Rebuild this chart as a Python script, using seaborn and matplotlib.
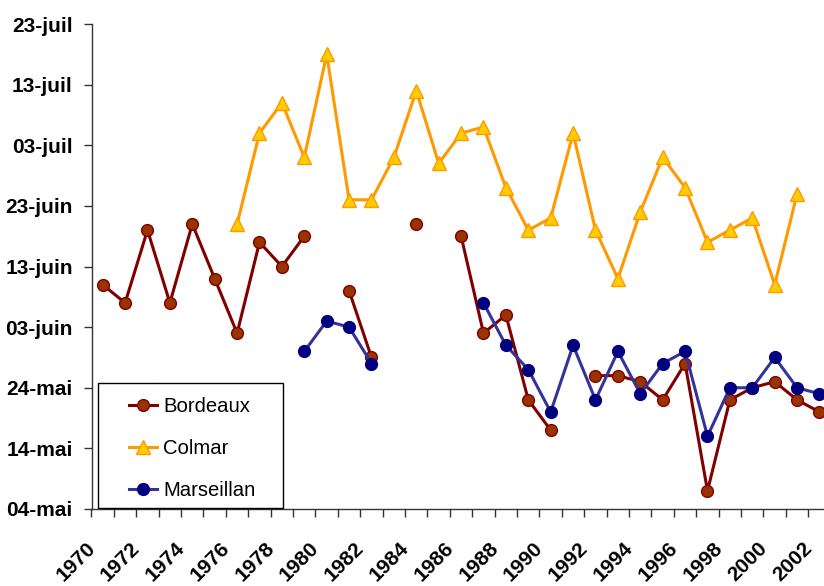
import numpy as np
import pandas as pd
import matplotlib
matplotlib.use("Agg")
import matplotlib.pyplot as plt
import seaborn as sns
from matplotlib.lines import Line2D
from matplotlib.patches import Rectangle
from matplotlib.transforms import ScaledTranslation, blended_transform_factory

plt.rcParams['font.family'] = ['Liberation Sans', 'DejaVu Sans']

nan = np.nan
years = list(range(1970, 2003))
# values: days after 04-mai
bordeaux = [37, 34, 46, 34, 47, 38, 29, 44, 40, 45, nan, 36, 25, nan, 47, nan,
            45, 29, 32, 18, 13, nan, 22, 22, 21, 18, 24, 3, 18, 20, 21, 18, 16]
colmar = [nan, nan, nan, nan, nan, nan, 47, 62, 67, 58, 75, 51, 51, 58, 69, 57,
          62, 63, 53, 46, 48, 62, 46, 38, 49, 58, 53, 44, 46, 48, 37, 52, nan]
marseillan = [nan, nan, nan, nan, nan, nan, nan, nan, nan, 26, 31, 30, 24, nan, nan, nan,
              nan, 34, 27, 23, 16, 27, 18, 26, 19, 24, 26, 12, 20, 20, 25, 20, 19]
ytick_vals = [0, 10, 20, 30, 40, 50, 60, 70, 80]
ytick_labels = ['04-mai', '14-mai', '24-mai', '03-juin', '13-juin', '23-juin',
                '03-juil', '13-juil', '23-juil']
series_names = ['Bordeaux', 'Colmar', 'Marseillan']

styles = {
    'Bordeaux': dict(color='#800000', marker='o', markersize=8.5,
                     markerfacecolor='#993300', markeredgecolor='#800000',
                     markeredgewidth=1.0, linewidth=2.2),
    'Colmar': dict(color='#FF9900', marker='^', markersize=9.5,
                   markerfacecolor='#FFCC00', markeredgecolor='#FF9900',
                   markeredgewidth=1.0, linewidth=2.2),
    'Marseillan': dict(color='#333399', marker='o', markersize=8.5,
                       markerfacecolor='#000080', markeredgecolor='#000080',
                       markeredgewidth=1.0, linewidth=2.2),
}

W, H = 824, 586
fig = plt.figure(figsize=(W / 100, H / 100), dpi=100)
ax_l, ax_r, ax_t, ax_b = 91.5, 830.7, 24.0, 509.0
ax = fig.add_axes([ax_l / W, (H - ax_b) / H, (ax_r - ax_l) / W, (ax_b - ax_t) / H])

for name, vals in zip(series_names, [bordeaux, colmar, marseillan]):
    df = pd.DataFrame({'year': years, 'value': vals})
    df['seg'] = df['value'].isna().cumsum()
    df = df.dropna()
    sns.lineplot(data=df, x='year', y='value', units='seg', estimator=None,
                 ax=ax, legend=False, **styles[name])

ax.set_xlim(1969.5, 2002.5)
ax.set_ylim(0, 80)
ax.set_xlabel('')
ax.set_ylabel('')
for s in ['top', 'right']:
    ax.spines[s].set_visible(False)
for s in ['left', 'bottom']:
    ax.spines[s].set_color('#333333')
    ax.spines[s].set_linewidth(1.0)

ax.set_yticks(ytick_vals)
ax.set_yticklabels(ytick_labels, fontsize=15, fontweight='bold')
ax.tick_params(axis='y', length=6, width=1, color='#333333', pad=7.5)

bounds = [y - 0.5 for y in years] + [years[-1] + 0.5]
ax.set_xticks(bounds)
ax.set_xticklabels([])
ax.tick_params(axis='x', length=6, width=1, color='#333333')

trans = blended_transform_factory(ax.transData, ax.transAxes) + \
    ScaledTranslation(-10.5 / 100, -36.5 / 100, fig.dpi_scale_trans)
for y in years:
    if y % 2 == 0:
        ax.text(y, 0, str(y), transform=trans, rotation=45, ha='right', va='center',
                rotation_mode='anchor', fontsize=15, fontweight='bold', clip_on=False)

# legend
fig.patches.append(Rectangle((98.3 / W, (H - 507.7) / H), (283.3 - 98.3) / W,
                             (507.7 - 383.3) / H, transform=fig.transFigure,
                             facecolor='white', edgecolor='black', linewidth=1.0,
                             zorder=5))
handles = [Line2D([], [], **styles[n]) for n in series_names]
leg = fig.legend(handles, series_names, loc='upper left',
                 bbox_to_anchor=(129 / W, (H - 397) / H), frameon=False,
                 fontsize=14.6, borderpad=0, borderaxespad=0, handlelength=1.38,
                 handletextpad=0.3, labelspacing=1.13)
leg.set_zorder(6)

fig.savefig('out.png', dpi=100)
